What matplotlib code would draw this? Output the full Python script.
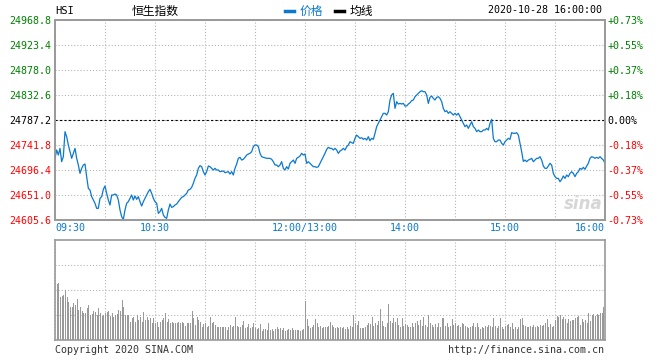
import matplotlib
matplotlib.use("Agg")
import matplotlib.pyplot as plt
from matplotlib.lines import Line2D

# ---- data (HSI intraday, 2020-10-28) ----
prev_close = 24787.2

# minute index since 09:30 (12:00 and 13:00 share index 150)
minute_idx = [
    0, 1, 2, 3, 4, 5, 6, 7, 8, 9, 10, 11, 12, 13, 14, 15, 16, 17, 18, 19,
    20, 21, 22, 24, 25, 26, 27, 28, 29, 30, 31, 32, 33, 34, 35, 36, 37, 38, 39, 40,
    41, 42, 43, 44, 45, 46, 47, 48, 49, 50, 51, 52, 53, 54, 55, 56, 57, 58, 59, 60,
    61, 62, 63, 64, 65, 66, 67, 68, 69, 70, 71, 72, 73, 74, 76, 77, 78, 79, 80, 81,
    82, 83, 84, 85, 86, 87, 88, 89, 90, 91, 92, 93, 94, 95, 96, 97, 98, 99, 101, 102,
    104, 105, 106, 107, 108, 109, 110, 111, 112, 113, 114, 115, 116, 117, 118, 119, 120, 121, 122, 123,
    124, 125, 127, 129, 130, 131, 132, 133, 134, 135, 136, 137, 138, 139, 140, 141, 142, 143, 144, 145,
    146, 147, 148, 149, 150, 151, 152, 153, 154, 155, 156, 157, 158, 159, 160, 161, 162, 163, 164, 165,
    166, 167, 168, 169, 170, 171, 172, 173, 174, 175, 176, 177, 178, 179, 180, 181, 182, 183, 184, 185,
    186, 187, 188, 189, 190, 191, 192, 193, 194, 195, 196, 197, 198, 199, 200, 201, 202, 203, 204, 205,
    206, 207, 208, 209, 210, 211, 212, 213, 214, 215, 216, 217, 218, 219, 220, 221, 222, 223, 224, 225,
    226, 227, 228, 229, 230, 231, 232, 233, 234, 235, 236, 237, 238, 239, 240, 241, 242, 243, 244, 245,
    246, 247, 248, 249, 250, 251, 252, 253, 254, 255, 256, 257, 258, 259, 260, 261, 262, 263, 264, 265,
    266, 267, 268, 269, 270, 271, 272, 273, 274, 275, 276, 277, 278, 279, 280, 281, 282, 283, 284, 285,
    286, 287, 288, 289, 290, 291, 292, 293, 294, 295, 296, 297, 298, 299, 300, 301, 302, 303, 304, 305,
    306, 307, 308, 309, 310, 311, 312, 313, 314, 315, 316, 317, 318, 319, 320, 321, 322, 323, 324, 325,
    326, 327, 328, 329, 330,
]
price = [
    24717.6, 24732.7, 24723.6, 24735.7, 24711.5, 24720.6, 24766.0, 24756.9, 24741.8, 24729.7,
    24717.6, 24726.7, 24735.7, 24717.6, 24705.5, 24690.3, 24699.4, 24705.5, 24707.3, 24684.3,
    24663.1, 24660.1, 24648.0, 24635.9, 24626.8, 24626.8, 24644.9, 24648.0, 24661.3, 24667.3,
    24654.0, 24641.9, 24632.8, 24651.0, 24651.0, 24652.8, 24651.0, 24641.9, 24623.8, 24611.6,
    24606.8, 24623.8, 24635.9, 24638.9, 24644.9, 24651.0, 24641.9, 24649.2, 24643.1, 24648.0,
    24638.9, 24631.0, 24638.9, 24644.9, 24651.0, 24657.0, 24661.3, 24654.0, 24644.9, 24638.9,
    24635.9, 24617.7, 24620.7, 24626.8, 24614.7, 24610.4, 24608.6, 24623.8, 24634.6, 24628.6,
    24629.8, 24632.8, 24634.6, 24638.9, 24646.8, 24648.0, 24651.0, 24654.0, 24660.1, 24661.3,
    24664.9, 24672.2, 24681.3, 24687.3, 24699.4, 24704.3, 24702.4, 24693.4, 24687.3, 24693.4,
    24703.7, 24702.4, 24699.4, 24696.4, 24699.4, 24696.4, 24696.4, 24693.4, 24694.6, 24691.5,
    24693.4, 24689.1, 24693.4, 24687.3, 24699.4, 24707.3, 24717.6, 24719.4, 24714.5, 24715.8,
    24719.4, 24723.6, 24725.4, 24726.7, 24729.7, 24738.8, 24741.8, 24741.8, 24738.8, 24726.7,
    24720.6, 24719.4, 24717.6, 24717.6, 24715.8, 24711.5, 24705.5, 24705.5, 24702.4, 24705.5,
    24711.5, 24699.4, 24696.4, 24702.4, 24698.2, 24708.5, 24711.5, 24714.5, 24708.5, 24717.6,
    24719.4, 24721.8, 24726.7, 24723.6, 24725.4, 24708.5, 24711.5, 24708.5, 24705.5, 24702.4,
    24702.4, 24701.2, 24702.4, 24708.5, 24714.5, 24720.6, 24726.7, 24733.9, 24737.5, 24735.7,
    24735.7, 24732.7, 24735.7, 24732.7, 24726.6, 24730.9, 24732.7, 24735.7, 24732.7, 24738.7,
    24741.8, 24747.8, 24746.0, 24744.8, 24753.9, 24759.9, 24756.9, 24753.9, 24755.1, 24752.1,
    24753.9, 24750.8, 24756.9, 24749.6, 24753.9, 24752.1, 24763.0, 24775.1, 24781.1, 24787.2,
    24793.2, 24799.3, 24799.3, 24796.2, 24802.3, 24823.5, 24832.6, 24835.6, 24808.3, 24820.5,
    24816.2, 24817.4, 24816.2, 24817.4, 24812.6, 24812.6, 24816.2, 24818.6, 24822.3, 24823.5,
    24829.5, 24832.6, 24835.6, 24838.6, 24840.4, 24838.6, 24838.6, 24832.6, 24817.4, 24828.3,
    24830.7, 24826.5, 24823.5, 24828.3, 24829.5, 24826.5, 24820.5, 24808.3, 24802.3, 24804.1,
    24799.3, 24802.3, 24799.3, 24796.2, 24799.3, 24796.2, 24799.3, 24793.2, 24787.2, 24781.1,
    24775.1, 24778.1, 24772.0, 24778.1, 24784.1, 24775.1, 24772.0, 24766.0, 24769.0, 24766.0,
    24766.0, 24769.0, 24769.0, 24772.0, 24769.0, 24781.1, 24788.4, 24753.9, 24747.8, 24747.8,
    24750.8, 24750.8, 24744.8, 24741.8, 24747.8, 24750.8, 24753.9, 24752.1, 24764.2, 24763.0,
    24763.0, 24764.2, 24759.9, 24744.8, 24729.7, 24712.0, 24714.5, 24711.5, 24714.5, 24715.7,
    24717.6, 24711.5, 24714.5, 24717.6, 24717.6, 24720.6, 24714.5, 24703.6, 24699.4, 24699.4,
    24703.6, 24708.5, 24705.4, 24690.3, 24684.3, 24681.2, 24681.2, 24675.2, 24679.4, 24685.5,
    24681.2, 24687.3, 24684.3, 24690.3, 24693.3, 24690.3, 24684.3, 24690.3, 24693.3, 24699.4,
    24697.6, 24701.2, 24697.6, 24703.6, 24708.5, 24717.6, 24720.6, 24719.4, 24717.6, 24719.4,
    24717.6, 24720.6, 24717.6, 24714.5, 24708.8,
]

# per-minute volume (relative units), minutes 1..330
volume = [
    56, 57, 43, 44, 45, 50, 43, 38, 33, 33, 37, 35, 41, 30, 33, 29, 27, 27, 32, 35,
    25, 26, 29, 28, 25, 32, 27, 24, 25, 27, 28, 29, 24, 27, 23, 25, 26, 30, 29, 40,
    33, 25, 25, 25, 18, 22, 23, 18, 25, 20, 23, 18, 28, 20, 23, 20, 22, 17, 22, 17,
    18, 13, 18, 20, 22, 27, 18, 21, 17, 18, 17, 17, 17, 18, 17, 18, 17, 14, 17, 17,
    17, 29, 22, 15, 23, 20, 18, 13, 16, 17, 13, 14, 23, 17, 18, 15, 13, 13, 13, 13,
    13, 13, 10, 13, 15, 13, 14, 23, 14, 13, 13, 15, 19, 12, 13, 16, 12, 13, 17, 12,
    11, 12, 16, 9, 11, 11, 10, 17, 10, 11, 9, 11, 13, 11, 12, 10, 12, 9, 10, 11,
    10, 12, 10, 10, 10, 10, 9, 10, 11, 39, 21, 14, 12, 13, 15, 21, 17, 13, 14, 12,
    13, 13, 13, 14, 18, 15, 13, 12, 13, 12, 13, 12, 13, 11, 13, 11, 14, 13, 25, 17,
    15, 19, 12, 12, 12, 13, 15, 17, 16, 23, 14, 17, 15, 19, 31, 19, 14, 13, 17, 36,
    19, 17, 22, 18, 22, 15, 13, 22, 14, 16, 15, 13, 13, 17, 13, 17, 19, 15, 20, 14,
    23, 15, 13, 25, 17, 15, 13, 16, 13, 17, 13, 22, 22, 14, 17, 13, 14, 21, 15, 17,
    14, 15, 13, 17, 16, 14, 13, 12, 13, 14, 17, 13, 17, 13, 11, 13, 12, 14, 13, 15,
    14, 13, 22, 14, 12, 14, 22, 13, 11, 14, 15, 16, 13, 17, 11, 13, 11, 13, 21, 22,
    15, 14, 13, 13, 14, 13, 15, 13, 14, 13, 15, 14, 15, 17, 21, 13, 16, 13, 14, 20,
    24, 23, 25, 21, 23, 21, 17, 21, 19, 20, 20, 22, 23, 24, 15, 21, 18, 20, 17, 27,
    19, 25, 26, 24, 26, 25, 27, 27, 33, 44,
]
volume_idx = list(range(1, len(volume) + 1))

price_ticks = [24605.6, 24651.0, 24696.4, 24741.8, 24787.2,
               24832.6, 24878.0, 24923.4, 24968.8]
time_ticks = [0, 30, 60, 90, 120, 150, 180, 210, 240, 270, 300, 330]
time_labels = ['09:30', '', '10:30', '', '', '12:00/13:00', '',
               '14:00', '', '15:00', '', '16:00']

# ---- style ----
MONO = 'DejaVu Sans Mono'
CJK = ['Noto Sans CJK SC', 'DejaVu Sans']
BLUE = '#0b79cf'
GREEN = '#008000'
RED = '#ff0000'
FRAME = '#999999'
GRID = '#b0b0b0'
FS = 7.2

W, H = 660, 360
fig = plt.figure(figsize=(W / 100, H / 100), dpi=100)
ax = fig.add_axes([55 / W, 140 / H, 550 / W, 200 / H])
axv = fig.add_axes([55 / W, 20 / H, 550 / W, 100 / H])

# price panel
ax.plot(minute_idx, price, color=BLUE, linewidth=0.9, zorder=3)
ax.axhline(prev_close, color='black', linewidth=0.8, linestyle=(0, (2, 2)), zorder=2)
ax.set_xlim(0, 330)
ax.set_ylim(price_ticks[0], price_ticks[-1])
ax.set_xticks(time_ticks)
ax.set_xticklabels(time_labels, fontsize=FS, family=MONO, color=BLUE)
ax.set_yticks(price_ticks)
ax.set_yticklabels([f'{v:.1f}' for v in price_ticks], fontsize=FS, family=MONO)
ax.grid(True, color=GRID, linewidth=0.75, linestyle=(0, (1, 2)))
ax.tick_params(length=0, pad=2)
ax.tick_params(axis='y', pad=2.5)

xl = ax.get_xticklabels()
xl[0].set_horizontalalignment('left')
xl[-1].set_horizontalalignment('right')

def tick_color(v):
    if abs(v - prev_close) < 0.05:
        return 'black'
    return GREEN if v > prev_close else RED

for lab, v in zip(ax.get_yticklabels(), price_ticks):
    lab.set_color(tick_color(v))

# percentage axis on the right
ax_r = ax.twinx()
ax_r.set_ylim(ax.get_ylim())
ax_r.set_yticks(price_ticks)
pct_labels = []
for v in price_ticks:
    p = (v - prev_close) / prev_close * 100
    if abs(p) < 0.005:
        pct_labels.append('0.00%')
    else:
        pct_labels.append(f'{p:+.2f}%')
ax_r.set_yticklabels(pct_labels, fontsize=FS, family=MONO)
ax_r.tick_params(length=0, pad=1.5)
for lab, v in zip(ax_r.get_yticklabels(), price_ticks):
    lab.set_color(tick_color(v))

for a in (ax, ax_r, axv):
    for s in a.spines.values():
        s.set_color(FRAME)
        s.set_linewidth(1.2)

# volume panel: one 1-px bar per minute
axv.vlines(volume_idx, 0, volume, colors='#999999', linewidth=0.72, antialiased=False)
axv.set_xlim(0, 330)
axv.set_ylim(0, 100)
axv.set_xticks(time_ticks)
axv.set_yticks([25, 50, 75])
axv.set_xticklabels([])
axv.set_yticklabels([])
axv.tick_params(length=0)
axv.grid(True, color=GRID, linewidth=0.75, linestyle=(0, (1, 2)))
axv.set_axisbelow(True)

# header
def fy(y):
    return 1 - y / H

fig.text(55 / W, fy(11), 'HSI', fontsize=FS + 0.3, family=MONO, va='center')
fig.text(155 / W, fy(11), '恒生指数', fontsize=8.5, family=CJK, ha='center', va='center')
fig.add_artist(Line2D([285 / W, 294 / W], [fy(11), fy(11)], color=BLUE, linewidth=2.5))
fig.text(300 / W, fy(11), '价格', fontsize=8.5, family=CJK, color=BLUE, va='center')
fig.add_artist(Line2D([335 / W, 344 / W], [fy(11), fy(11)], color='black', linewidth=2.5))
fig.text(350 / W, fy(11), '均线', fontsize=8.5, family=CJK, color='black', va='center')
fig.text(602 / W, fy(10), '2020-10-28 16:00:00', fontsize=FS, family=MONO, ha='right', va='center')

# footer
fig.text(55 / W, fy(350), 'Copyright 2020 SINA.COM', fontsize=FS, family=MONO,
         color='#333333', va='center')
fig.text(604 / W, fy(350), 'http://finance.sina.com.cn', fontsize=FS, family=MONO,
         color='#333333', ha='right', va='center')

# watermark
fig.text(583 / W, fy(204), 'sina', fontsize=12, family='DejaVu Sans', style='italic',
         weight='bold', color='#d6d6d6', ha='center', va='center')

fig.savefig('out.png', dpi=100)
